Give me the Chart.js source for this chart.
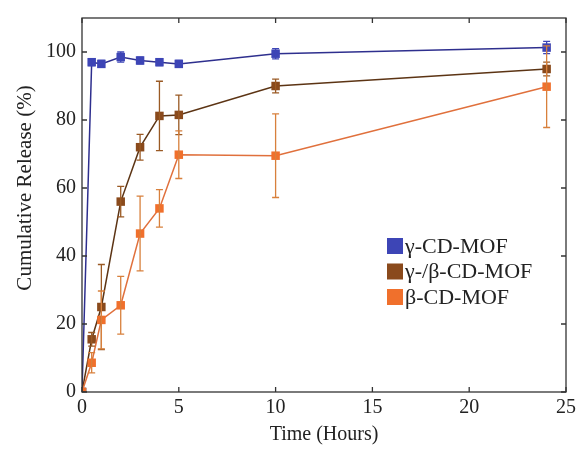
<!DOCTYPE html>
<html>
<head>
<meta charset="utf-8">
<script src="https://cdn.jsdelivr.net/npm/chart.js@4/dist/chart.umd.min.js"></script>
<style>
  html, body { margin: 0; padding: 0; background: #fff; }
  #wrap { width: 580px; height: 451px; }
</style>
</head>
<body>
<div id="wrap"><canvas id="release"></canvas></div>
<script>
// Time points (hours).
const hours = [0, 0.5, 1, 2, 3, 4, 5, 10, 24];

// Cumulative release (%) and error bars.
const gammaRelease = [0, 97, 96.5, 98.5, 97.5, 97, 96.5, 99.5, 101.3];
const gammaErr     = [0, 1, 1, 1.5, 1, 1, 1, 1.5, 1.8];
const mixRelease   = [0, 15.5, 25, 56, 72, 81.2, 81.5, 90, 95];
const mixErr       = [0, 2, 12.5, 4.5, 3.8, 10.2, 5.8, 2, 2];
const betaRelease  = [0, 8.6, 21.2, 25.5, 46.6, 54, 69.8, 69.5, 89.8];
const betaErr      = [0, 3, 8.5, 8.5, 11, 5.5, 7, 12.3, 12];

const seriesLabels = ['γ-CD-MOF', 'γ-/β-CD-MOF', 'β-CD-MOF'];
const xTicks = [0, 5, 10, 15, 20, 25];
const yTicks = [0, 20, 40, 60, 80, 100];
const yTitle = 'Cumulative Release (%)';

const FONT = '"Liberation Serif", "DejaVu Serif", serif';

function toPoints(ys) {
  return hours.map(function (h, i) { return { x: h, y: ys[i] }; });
}

// Error bars, frame, inward ticks, y title and legend.
const extras = {
  id: 'extras',
  afterDatasetsDraw: function (chart) {
    const ctx = chart.ctx;
    const xs = chart.scales.x, ys = chart.scales.y;
    ctx.save();
    chart.data.datasets.forEach(function (ds) {
      ctx.strokeStyle = ds.errColor;
      ctx.lineWidth = 1.3;
      ds.data.forEach(function (p, i) {
        const e = ds.err[i];
        if (!e) return;
        const px = xs.getPixelForValue(p.x);
        const top = ys.getPixelForValue(p.y + e);
        const bot = ys.getPixelForValue(p.y - e);
        ctx.beginPath();
        ctx.moveTo(px, top); ctx.lineTo(px, bot);
        ctx.moveTo(px - 3.5, top); ctx.lineTo(px + 3.5, top);
        ctx.moveTo(px - 3.5, bot); ctx.lineTo(px + 3.5, bot);
        ctx.stroke();
      });
    });
    ctx.restore();
  },
  afterDraw: function (chart) {
    const ctx = chart.ctx;
    const a = chart.chartArea;
    const xs = chart.scales.x, ys = chart.scales.y;
    ctx.save();
    ctx.strokeStyle = '#333';
    ctx.lineWidth = 1.3;
    ctx.strokeRect(a.left, a.top, a.right - a.left, a.bottom - a.top);
    ctx.beginPath();
    xTicks.forEach(function (t) {
      const px = xs.getPixelForValue(t);
      ctx.moveTo(px, a.bottom); ctx.lineTo(px, a.bottom - 5);
      ctx.moveTo(px, a.top); ctx.lineTo(px, a.top + 5);
    });
    yTicks.forEach(function (t) {
      const py = ys.getPixelForValue(t);
      ctx.moveTo(a.left, py); ctx.lineTo(a.left + 5, py);
      ctx.moveTo(a.right, py); ctx.lineTo(a.right - 5, py);
    });
    ctx.stroke();

    // Y title, a little above centre like the original.
    ctx.fillStyle = '#222';
    ctx.font = '21px ' + FONT;
    ctx.textAlign = 'center';
    ctx.textBaseline = 'middle';
    ctx.translate(25, 188);
    ctx.rotate(-Math.PI / 2);
    ctx.fillText(yTitle, 0, 0);
    ctx.setTransform(1, 0, 0, 1, 0, 0);

    // Legend.
    ctx.font = '22px ' + FONT;
    ctx.textAlign = 'left';
    chart.data.datasets.forEach(function (ds, i) {
      const y = 246 + i * 25.5;
      ctx.fillStyle = ds.backgroundColor;
      ctx.fillRect(387, y - 8, 16, 16);
      ctx.fillStyle = '#222';
      ctx.fillText(ds.label, 405, y + 1);
    });
    ctx.restore();
  }
};

const datasets = [
  { label: seriesLabels[0], data: toPoints(gammaRelease), err: gammaErr, order: 3, borderColor: '#2e2f8e', backgroundColor: '#3d45b6', errColor: '#3d45b6' },
  { label: seriesLabels[1], data: toPoints(mixRelease), err: mixErr, order: 2, borderColor: '#5c3414', backgroundColor: '#8a4a1c', errColor: '#9a5a24' },
  { label: seriesLabels[2], data: toPoints(betaRelease), err: betaErr, order: 1, borderColor: '#e0703c', backgroundColor: '#f0702c', errColor: '#d8803c' }
].map(function (d) {
  return Object.assign(d, {
    borderWidth: 1.5,
    pointStyle: 'rect',
    pointRadius: 6,
    pointBorderWidth: 0,
    pointBackgroundColor: d.backgroundColor,
    tension: 0
  });
});

new Chart(document.getElementById('release'), {
  type: 'line',
  data: { datasets: datasets },
  options: {
    responsive: true,
    maintainAspectRatio: false,
    animation: false,
    layout: { padding: { top: 14, right: 11, left: 0, bottom: 0 } },
    plugins: { legend: { display: false }, tooltip: { enabled: false } },
    scales: {
      x: {
        type: 'linear', min: 0, max: 25,
        afterBuildTicks: function (s) { s.ticks = xTicks.map(function (v) { return { value: v }; }); },
        afterFit: function (s) { s.height = 59; },
        grid: { display: false, drawTicks: false },
        border: { display: false },
        ticks: { color: '#222', font: { family: FONT, size: 20 }, padding: 4, maxRotation: 0 },
        title: { display: true, text: 'Time (Hours)', color: '#222', font: { family: FONT, size: 20 }, padding: { top: 0 } }
      },
      y: {
        type: 'linear', min: 0, max: 110,
        afterBuildTicks: function (s) { s.ticks = yTicks.map(function (v) { return { value: v }; }); },
        afterFit: function (s) { s.width = 82; },
        grid: { display: false, drawTicks: false },
        border: { display: false },
        ticks: { color: '#222', font: { family: FONT, size: 20 }, padding: 6 },
        title: { display: false }
      }
    }
  },
  plugins: [extras]
});
</script>
</body>
</html>
